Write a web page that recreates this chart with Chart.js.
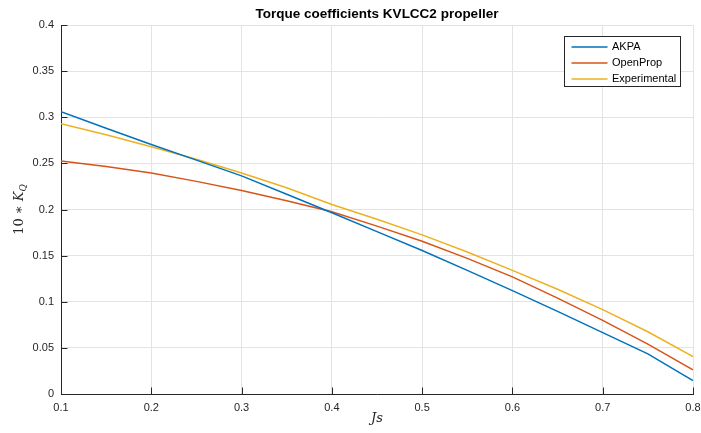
<!DOCTYPE html>
<html>
<head>
<meta charset="utf-8">
<script src="https://cdn.jsdelivr.net/npm/chart.js@4.4.1/dist/chart.umd.min.js"></script>
<style>
  body { margin: 0; background: #fff; }
  canvas { display: block; }
</style>
</head>
<body>
<canvas id="myChart" width="701" height="433"></canvas>
<script>
// advance coefficient Js
const js = [0.1, 0.15, 0.2, 0.25, 0.3, 0.35, 0.4, 0.45, 0.5, 0.55, 0.6, 0.65, 0.7, 0.75, 0.8];
// 10*KQ for each method
const akpa = [0.306, 0.288, 0.2705, 0.2535, 0.2365, 0.2165, 0.1965, 0.176, 0.1555, 0.134, 0.112, 0.0895, 0.0665, 0.0435, 0.0145];
const openProp = [0.2527, 0.2465, 0.2395, 0.2305, 0.2205, 0.2095, 0.1975, 0.182, 0.1655, 0.147, 0.127, 0.104, 0.0798, 0.054, 0.0263];
const experimental = [0.293, 0.281, 0.268, 0.2545, 0.2395, 0.2235, 0.2055, 0.1895, 0.1725, 0.154, 0.134, 0.1135, 0.0915, 0.0675, 0.0405];
const seriesNames = ['AKPA', 'OpenProp', 'Experimental'];
const xTicks = [0.1, 0.2, 0.3, 0.4, 0.5, 0.6, 0.7, 0.8];
const yTicks = [0, 0.05, 0.1, 0.15, 0.2, 0.25, 0.3, 0.35, 0.4];

const colors = ['#0072BD', '#D95319', '#EDB120'];
const axisColor = '#262626';
const sans = '"Liberation Sans", Arial, sans-serif';
const serif = '"DejaVu Serif", "Liberation Serif", serif';

function pts(vals) {
  return js.map((x, i) => ({ x: x, y: vals[i] }));
}
function fmt(v) {
  return String(+v.toFixed(2));
}

// inward ticks, axis labels and boxed legend, MATLAB style
const matlabBits = {
  id: 'matlabBits',
  afterDraw(chart) {
    const c = chart.ctx;
    const a = chart.chartArea;
    const xs = chart.scales.x, ys = chart.scales.y;
    c.save();
    c.strokeStyle = axisColor;
    c.lineWidth = 1;
    c.beginPath();
    xTicks.forEach(v => {
      const px = Math.round(xs.getPixelForValue(v)) + 0.5;
      c.moveTo(px, a.bottom);
      c.lineTo(px, a.bottom - 6.5);
    });
    yTicks.forEach(v => {
      const py = Math.round(ys.getPixelForValue(v)) + 0.5;
      c.moveTo(a.left, py);
      c.lineTo(a.left + 6.5, py);
    });
    c.stroke();

    // title
    c.fillStyle = '#000';
    c.font = 'bold 13.5px ' + sans;
    c.textAlign = 'center';
    c.textBaseline = 'middle';
    c.fillText('Torque coefficients KVLCC2 propeller', (a.left + a.right) / 2, 14);

    // x label
    c.fillStyle = axisColor;
    c.font = 'italic 13px ' + serif;
    c.fillText('Js', (a.left + a.right) / 2, 419);

    // y label: 10 * K_Q
    c.translate(20, (a.top + a.bottom) / 2);
    c.rotate(-Math.PI / 2);
    c.textAlign = 'left';
    c.font = '13px ' + serif;
    const p1 = '10 \u2217 ';
    const w1 = c.measureText(p1).width;
    c.font = 'italic 13px ' + serif;
    const w2 = c.measureText('K').width;
    c.font = 'italic 9px ' + serif;
    const w3 = c.measureText('Q').width;
    let x0 = -(w1 + w2 + w3) / 2;
    c.font = '13px ' + serif;
    c.fillText(p1, x0, 0);
    c.font = 'italic 13px ' + serif;
    c.fillText('K', x0 + w1, 0);
    c.font = 'italic 9px ' + serif;
    c.fillText('Q', x0 + w1 + w2, 4);
    c.setTransform(1, 0, 0, 1, 0, 0);

    // legend
    const lx = 564.5, ly = 36.5, lw = 116, lh = 50;
    c.fillStyle = '#fff';
    c.fillRect(lx, ly, lw, lh);
    c.strokeStyle = axisColor;
    c.strokeRect(lx, ly, lw, lh);
    c.font = '11px ' + sans;
    c.textAlign = 'left';
    c.textBaseline = 'middle';
    chart.data.datasets.forEach((ds, i) => {
      const y = ly + 10.5 + i * 16;
      c.strokeStyle = ds.borderColor;
      c.lineWidth = 1.5;
      c.beginPath();
      c.moveTo(571.5, y);
      c.lineTo(607.5, y);
      c.stroke();
      c.fillStyle = '#000';
      c.fillText(ds.label, 612, y);
    });
    c.restore();
  }
};

const ctx = document.getElementById('myChart').getContext('2d');

const myChart = new Chart(ctx, {
  type: 'line',
  data: {
    datasets: [
      { label: seriesNames[0], data: pts(akpa), borderColor: colors[0] },
      { label: seriesNames[1], data: pts(openProp), borderColor: colors[1] },
      { label: seriesNames[2], data: pts(experimental), borderColor: colors[2] }
    ].map(d => Object.assign(d, { borderWidth: 1.5, pointRadius: 0, tension: 0, fill: false }))
  },
  options: {
    responsive: false,
    animation: false,
    layout: { padding: { top: 25, right: 8, left: 0, bottom: 0 } },
    plugins: {
      legend: { display: false },
      title: { display: false },
      tooltip: { enabled: false }
    },
    scales: {
      x: {
        type: 'linear',
        min: 0.1,
        max: 0.8,
        afterBuildTicks: s => { s.ticks = xTicks.map(v => ({ value: v })); },
        afterFit: s => { s.height = 39; s.paddingLeft = 0; s.paddingRight = 0; },
        grid: { color: '#e3e3e3', drawTicks: false },
        border: { color: axisColor, width: 1 },
        ticks: { padding: 7, color: axisColor, font: { family: sans, size: 11 }, maxRotation: 0, callback: fmt }
      },
      y: {
        type: 'linear',
        min: 0,
        max: 0.4,
        afterBuildTicks: s => { s.ticks = yTicks.map(v => ({ value: v })); },
        afterFit: s => { s.width = 61; s.paddingTop = 0; s.paddingBottom = 0; },
        grid: { color: '#e3e3e3', drawTicks: false },
        border: { color: axisColor, width: 1 },
        ticks: { padding: 7, color: axisColor, font: { family: sans, size: 11 }, callback: fmt }
      }
    }
  },
  plugins: [matlabBits]
});
</script>
</body>
</html>
